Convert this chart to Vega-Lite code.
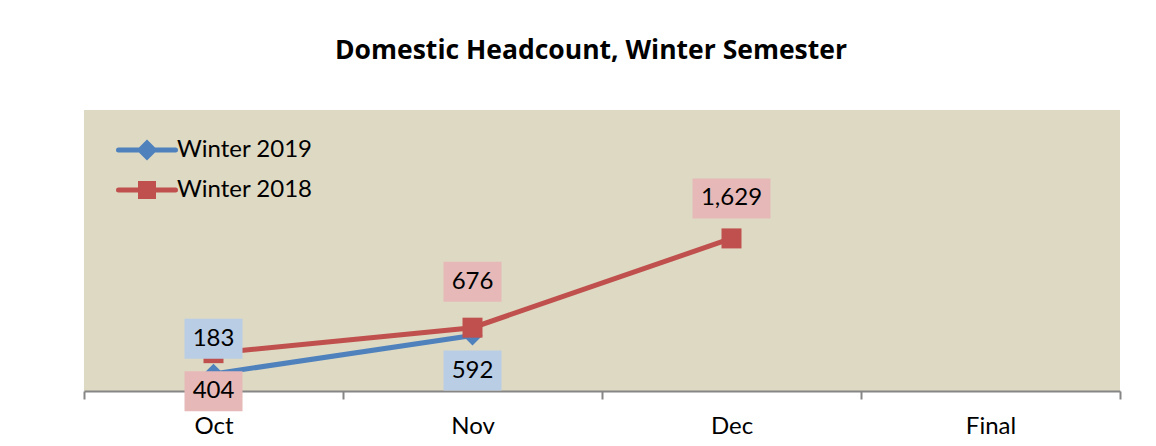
{
  "$schema": "https://vega.github.io/schema/vega-lite/v6.json",
  "width": 1036,
  "height": 281,
  "autosize": "none",
  "padding": {"left": 84, "top": 110, "right": 36, "bottom": 55},
  "background": "white",
  "title": {"text": "Domestic Headcount, Winter Semester", "font": "Open Sans", "fontSize": 26.5, "fontWeight": "bold", "color": "black", "anchor": "middle", "dx": -11, "offset": 25, "baseline": "alphabetic"},
  "config": {"view": {"fill": "#DDD9C3", "stroke": null}, "font": "Lato"},
  "data": {"values": [
    {"month": "Oct", "series": "Winter 2019", "value": 183},
    {"month": "Nov", "series": "Winter 2019", "value": 592},
    {"month": "Oct", "series": "Winter 2018", "value": 404},
    {"month": "Nov", "series": "Winter 2018", "value": 676},
    {"month": "Dec", "series": "Winter 2018", "value": 1629}
  ]},
  "encoding": {
    "x": {"field": "month", "type": "nominal", "sort": null,
      "scale": {"type": "band", "domain": ["Oct", "Nov", "Dec", "Final"], "paddingInner": 0, "paddingOuter": 0},
      "axis": {"title": null, "labelAngle": 0, "tickBand": "extent", "domainColor": "#868686", "domainWidth": 2, "tickColor": "#868686", "tickWidth": 2, "tickSize": 8, "labelFont": "Lato", "labelFontSize": 24, "labelColor": "black", "labelPadding": 15}},
    "y": {"field": "value", "type": "quantitative", "scale": {"domain": [0, 3000], "nice": false}, "axis": null}
  },
  "layer": [
    {
      "mark": {"type": "line", "strokeWidth": 5},
      "encoding": {
        "color": {"field": "series", "type": "nominal",
          "scale": {"domain": ["Winter 2019", "Winter 2018"], "range": ["#4F81BD", "#C0504D"]},
          "legend": {"orient": "none", "legendX": 51, "legendY": 28, "title": null, "labelFont": "Lato", "labelFontSize": 24, "labelColor": "black", "symbolSize": 100, "labelOffset": 18, "rowPadding": 6, "padding": 0,
            "encode": {"symbols": {"update": {
              "shape": {"signal": "datum.value === 'Winter 2019' ? 'M-5.7,0H5.7M-1.4,0L0,-1.4L1.4,0L0,1.4Z' : 'M-5.7,0H5.7M-1.3,-1.3H1.3V1.3H-1.3Z'"},
              "fill": {"scale": "color", "field": "value"},
              "stroke": {"scale": "color", "field": "value"},
              "strokeWidth": {"value": 5},
              "strokeCap": {"value": "round"},
              "opacity": {"value": 1}
            }}}}
        }
      }
    },
    {
      "transform": [{"filter": "datum.series === 'Winter 2019'"}],
      "mark": {"type": "point", "filled": true, "size": 400, "opacity": 1, "shape": "diamond"},
      "encoding": {
        "color": {"field": "series", "type": "nominal", "legend": null}
      }
    },
    {
      "transform": [{"filter": "datum.series === 'Winter 2018'"}],
      "mark": {"type": "point", "filled": true, "size": 400, "opacity": 1, "shape": "square"},
      "encoding": {
        "color": {"field": "series", "type": "nominal", "legend": null}
      }
    },
    {
      "transform": [{"filter": "datum.value < 1000"}],
      "mark": {"type": "point", "filled": true, "size": 3364, "opacity": 1, "strokeWidth": 0, "shape": "M-1,-0.69H1V0.69H-1Z",
        "yOffset": {"expr": "datum.series === 'Winter 2019' ? (datum.month === 'Oct' ? -35 : 35) : (datum.month === 'Oct' ? 38 : (datum.month === 'Nov' ? -46 : -40))"}},
      "encoding": {
        "fill": {"field": "series", "type": "nominal", "scale": {"domain": ["Winter 2019", "Winter 2018"], "range": ["#B9CDE5", "#E6B9B8"]}, "legend": null}
      }
    },
    {
      "transform": [{"filter": "datum.value >= 1000"}],
      "mark": {"type": "point", "filled": true, "size": 6084, "opacity": 1, "strokeWidth": 0, "shape": "M-1,-0.513H1V0.513H-1Z",
        "yOffset": {"expr": "datum.series === 'Winter 2019' ? (datum.month === 'Oct' ? -35 : 35) : (datum.month === 'Oct' ? 38 : (datum.month === 'Nov' ? -46 : -40))"}},
      "encoding": {
        "fill": {"field": "series", "type": "nominal", "scale": {"domain": ["Winter 2019", "Winter 2018"], "range": ["#B9CDE5", "#E6B9B8"]}, "legend": null}
      }
    },
    {
      "mark": {"type": "text", "font": "Lato", "fontSize": 24, "color": "black", "baseline": "middle", "align": "center",
        "yOffset": {"expr": "datum.series === 'Winter 2019' ? (datum.month === 'Oct' ? -35 : 35) : (datum.month === 'Oct' ? 38 : (datum.month === 'Nov' ? -46 : -40))"}},
      "encoding": {
        "text": {"field": "value", "type": "quantitative", "format": ","}
      }
    }
  ]
}
